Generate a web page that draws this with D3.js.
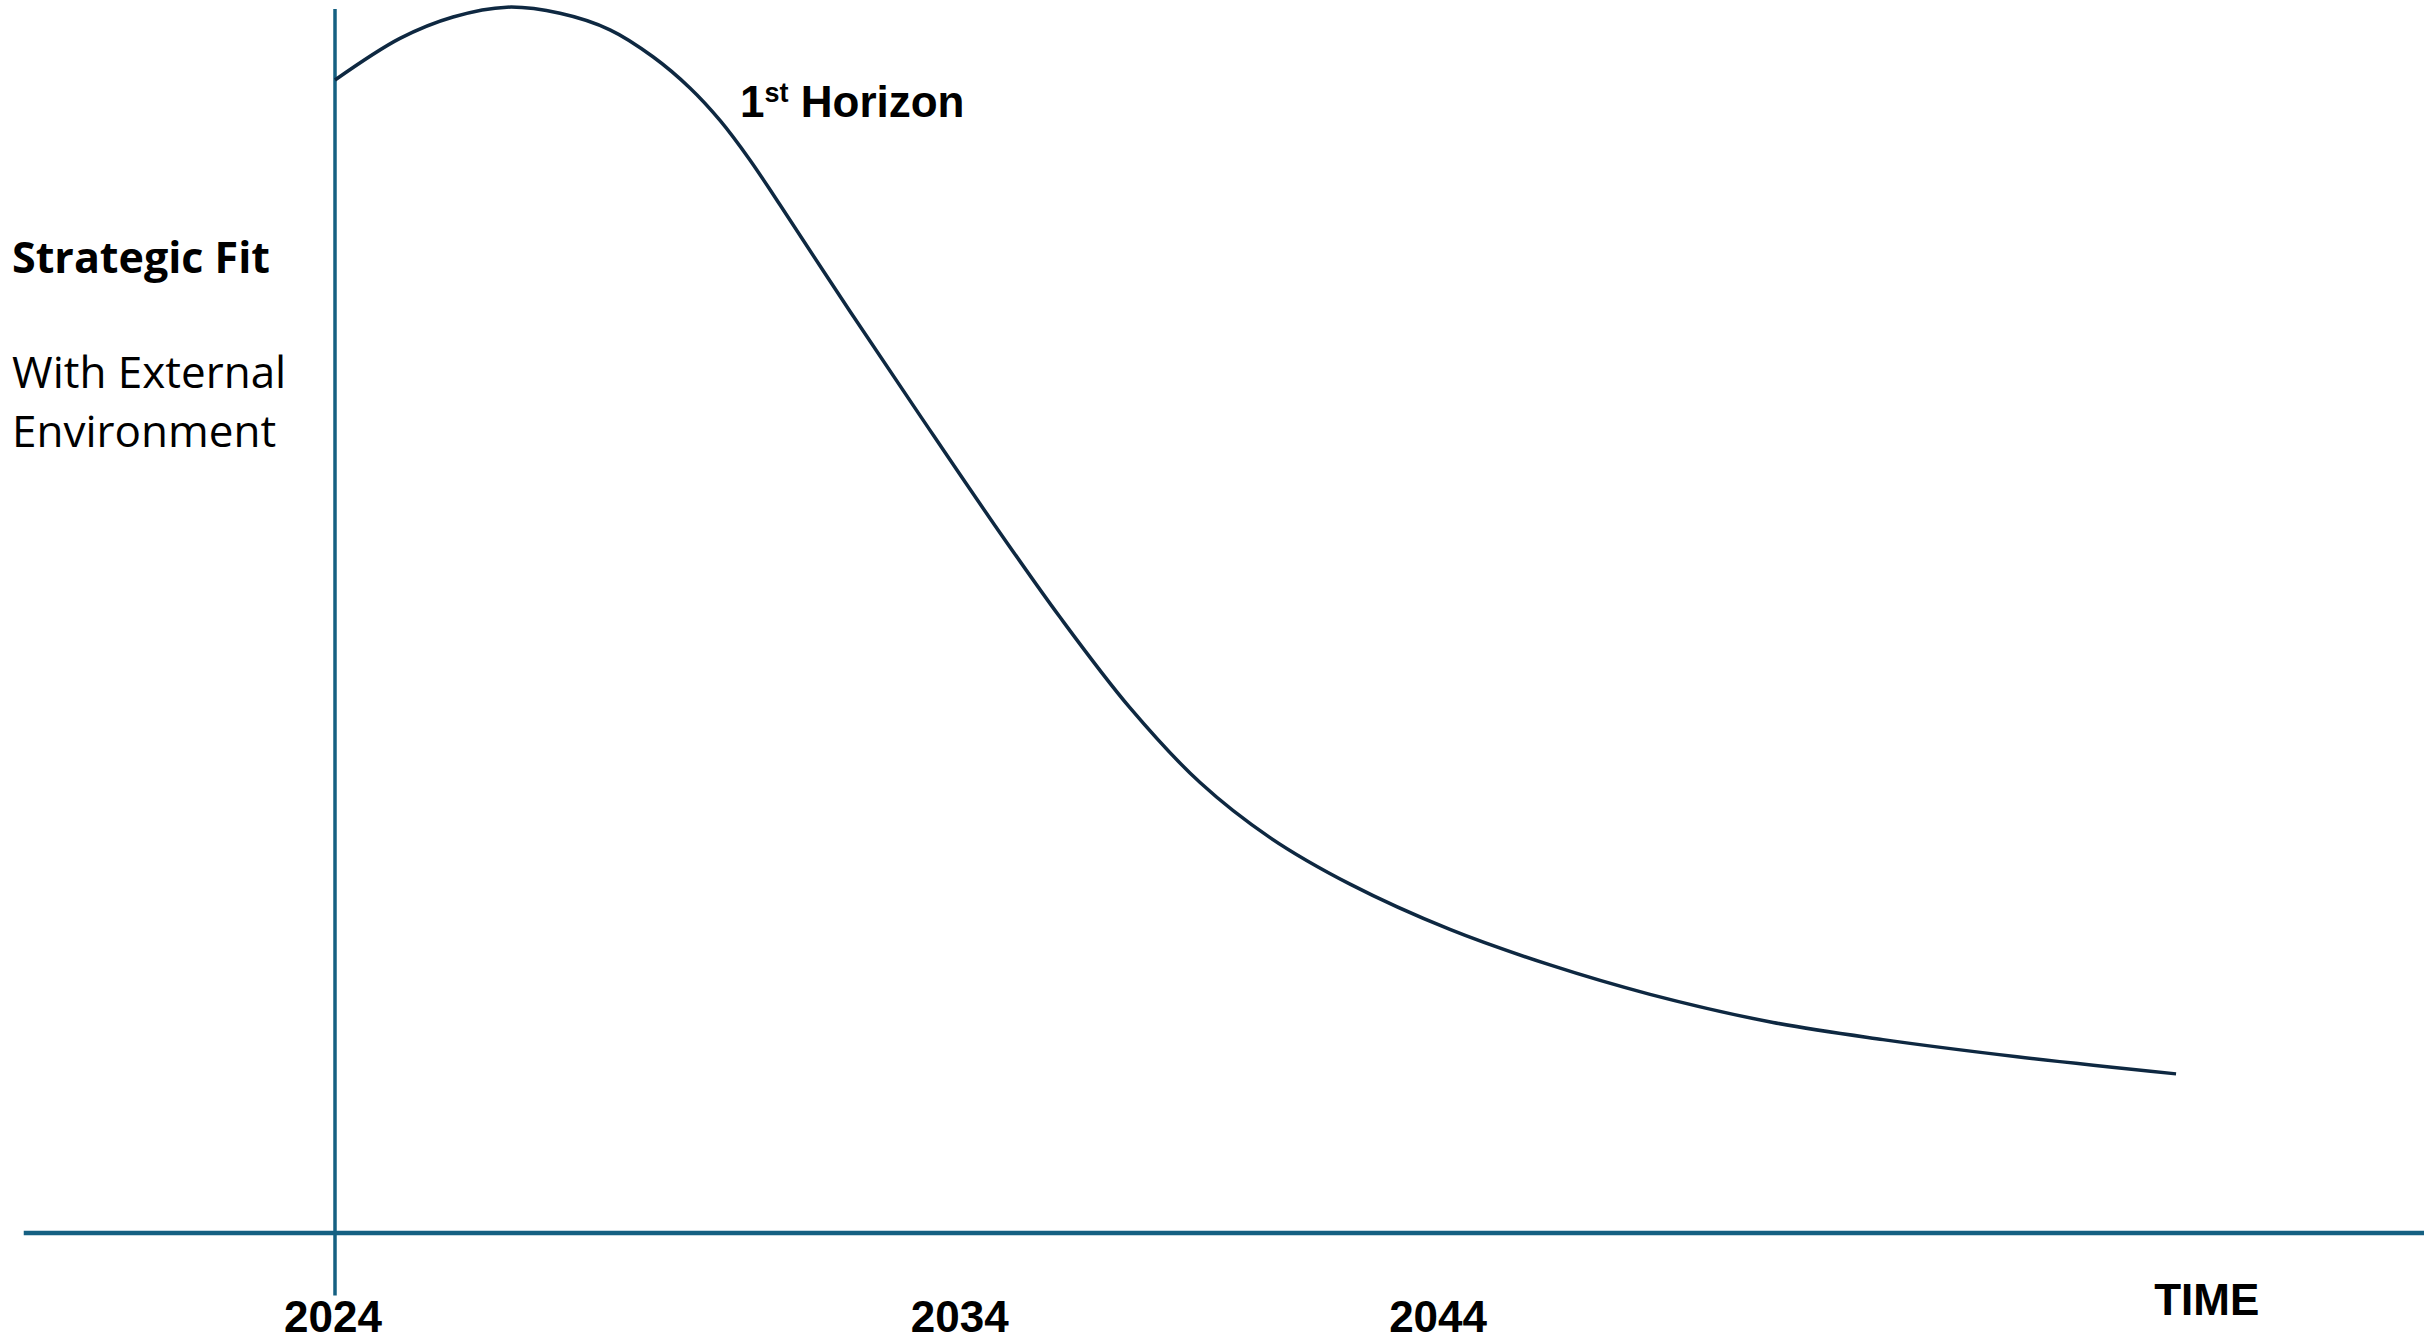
<!DOCTYPE html>
<html lang="en">

<head>
  <meta charset="UTF-8">
  <title>1st Horizon</title>
  <style>
    body {
      margin: 0;
      background: #fff;
    }

    svg {
      display: block;
    }

    .axis-line {
      stroke: #156082;
      fill: none;
    }

    .curve {
      fill: none;
      stroke: #0e2841;
      stroke-width: 3.5;
    }

    .lab {
      fill: #000;
      font-family: "Open Sans", sans-serif;
    }

    .tick-lab {
      fill: #000;
      font-family: "Liberation Sans", Arial, sans-serif;
      font-weight: bold;
      font-size: 44px;
    }
  </style>
</head>

<body>

  <div id="viz">
    <svg></svg>
  </div>

</body>
<script src="https://cdnjs.cloudflare.com/ajax/libs/d3/7.8.5/d3.min.js"></script>
<script>

  // horizon curve: time position (0-100) and strategic fit (0-100)
  let curveTime = [0, 3.11, 5.65, 8.23, 10.77, 13.16, 15.22, 16.99, 18.43, 19.87, 21.3, 24.65, 28.0,
    31.35, 34.71, 38.06, 41.41, 44.76, 48.59, 53.37, 58.16, 62.95, 68.84, 74.1, 80.52, 88.13];
  let curveFit = [94.2, 97.6, 99.35, 100.15, 99.65, 98.3, 96.1, 93.55, 90.9, 87.65, 84.0, 75.3, 66.8,
    58.4, 50.3, 42.9, 36.8, 32.3, 28.5, 24.8, 21.9, 19.5, 17.2, 15.8, 14.4, 13.0];

  let tickLabels = ['2024', '2034', '2044'];
  let tickTime = [0, 30, 52.9];

  let axisTitle = 'TIME';
  let axisTitleTime = 89.6;

  let yTitle = 'Strategic Fit';
  let ySubtitle = ['With External', 'Environment'];

  let curveLabel = { main: '1', sup: 'st', rest: ' Horizon' };

  let width = 2433,
    height = 1340;

  let svg = d3.select('svg')
    .attr('width', width)
    .attr('height', height);

  let x = d3.scaleLinear()
    .domain([0, 100])
    .range([335, 2424]);

  let y = d3.scaleLinear()
    .domain([0, 100])
    .range([1233, 9]);

  // axes
  svg.append('line')
    .attr('class', 'axis-line')
    .attr('x1', x(0))
    .attr('x2', x(0))
    .attr('y1', y(100))
    .attr('y2', y(-5.1))
    .attr('stroke-width', 3.5);

  svg.append('line')
    .attr('class', 'axis-line')
    .attr('x1', x(-14.9))
    .attr('x2', x(100))
    .attr('y1', y(0))
    .attr('y2', y(0))
    .attr('stroke-width', 4.5);

  // curve
  let pts = curveTime.map((t, i) => [t, curveFit[i]]);

  let line = d3.line()
    .x(d => x(d[0]))
    .y(d => y(d[1]))
    .curve(d3.curveCatmullRom.alpha(0.5));

  svg.append('path')
    .datum(pts)
    .attr('class', 'curve')
    .attr('d', line);

  // tick labels
  svg.selectAll('.tick-lab.year')
    .data(tickLabels)
    .enter()
    .append('text')
    .attr('class', 'tick-lab year')
    .attr('x', (d, i) => x(tickTime[i]) - 2)
    .attr('y', 1332)
    .attr('text-anchor', 'middle')
    .text(d => d);

  svg.append('text')
    .attr('class', 'tick-lab')
    .attr('x', x(axisTitleTime))
    .attr('y', 1315)
    .attr('text-anchor', 'middle')
    .text(axisTitle);

  // y titles
  svg.append('text')
    .attr('class', 'lab')
    .attr('x', 12)
    .attr('y', 273)
    .attr('font-size', 43)
    .attr('font-weight', 'bold')
    .text(yTitle);

  svg.selectAll('.lab.sub')
    .data(ySubtitle)
    .enter()
    .append('text')
    .attr('class', 'lab sub')
    .attr('x', 12)
    .attr('y', (d, i) => 388 + i * 59)
    .attr('font-size', 44)
    .text(d => d);

  // curve label
  let hz = svg.append('text')
    .attr('class', 'tick-lab')
    .attr('x', 740)
    .attr('y', 117);

  hz.append('tspan').text(curveLabel.main);
  hz.append('tspan')
    .attr('dy', -15)
    .attr('font-size', 27)
    .text(curveLabel.sup);
  hz.append('tspan')
    .attr('dy', 15)
    .text(curveLabel.rest);

</script>

</html>
